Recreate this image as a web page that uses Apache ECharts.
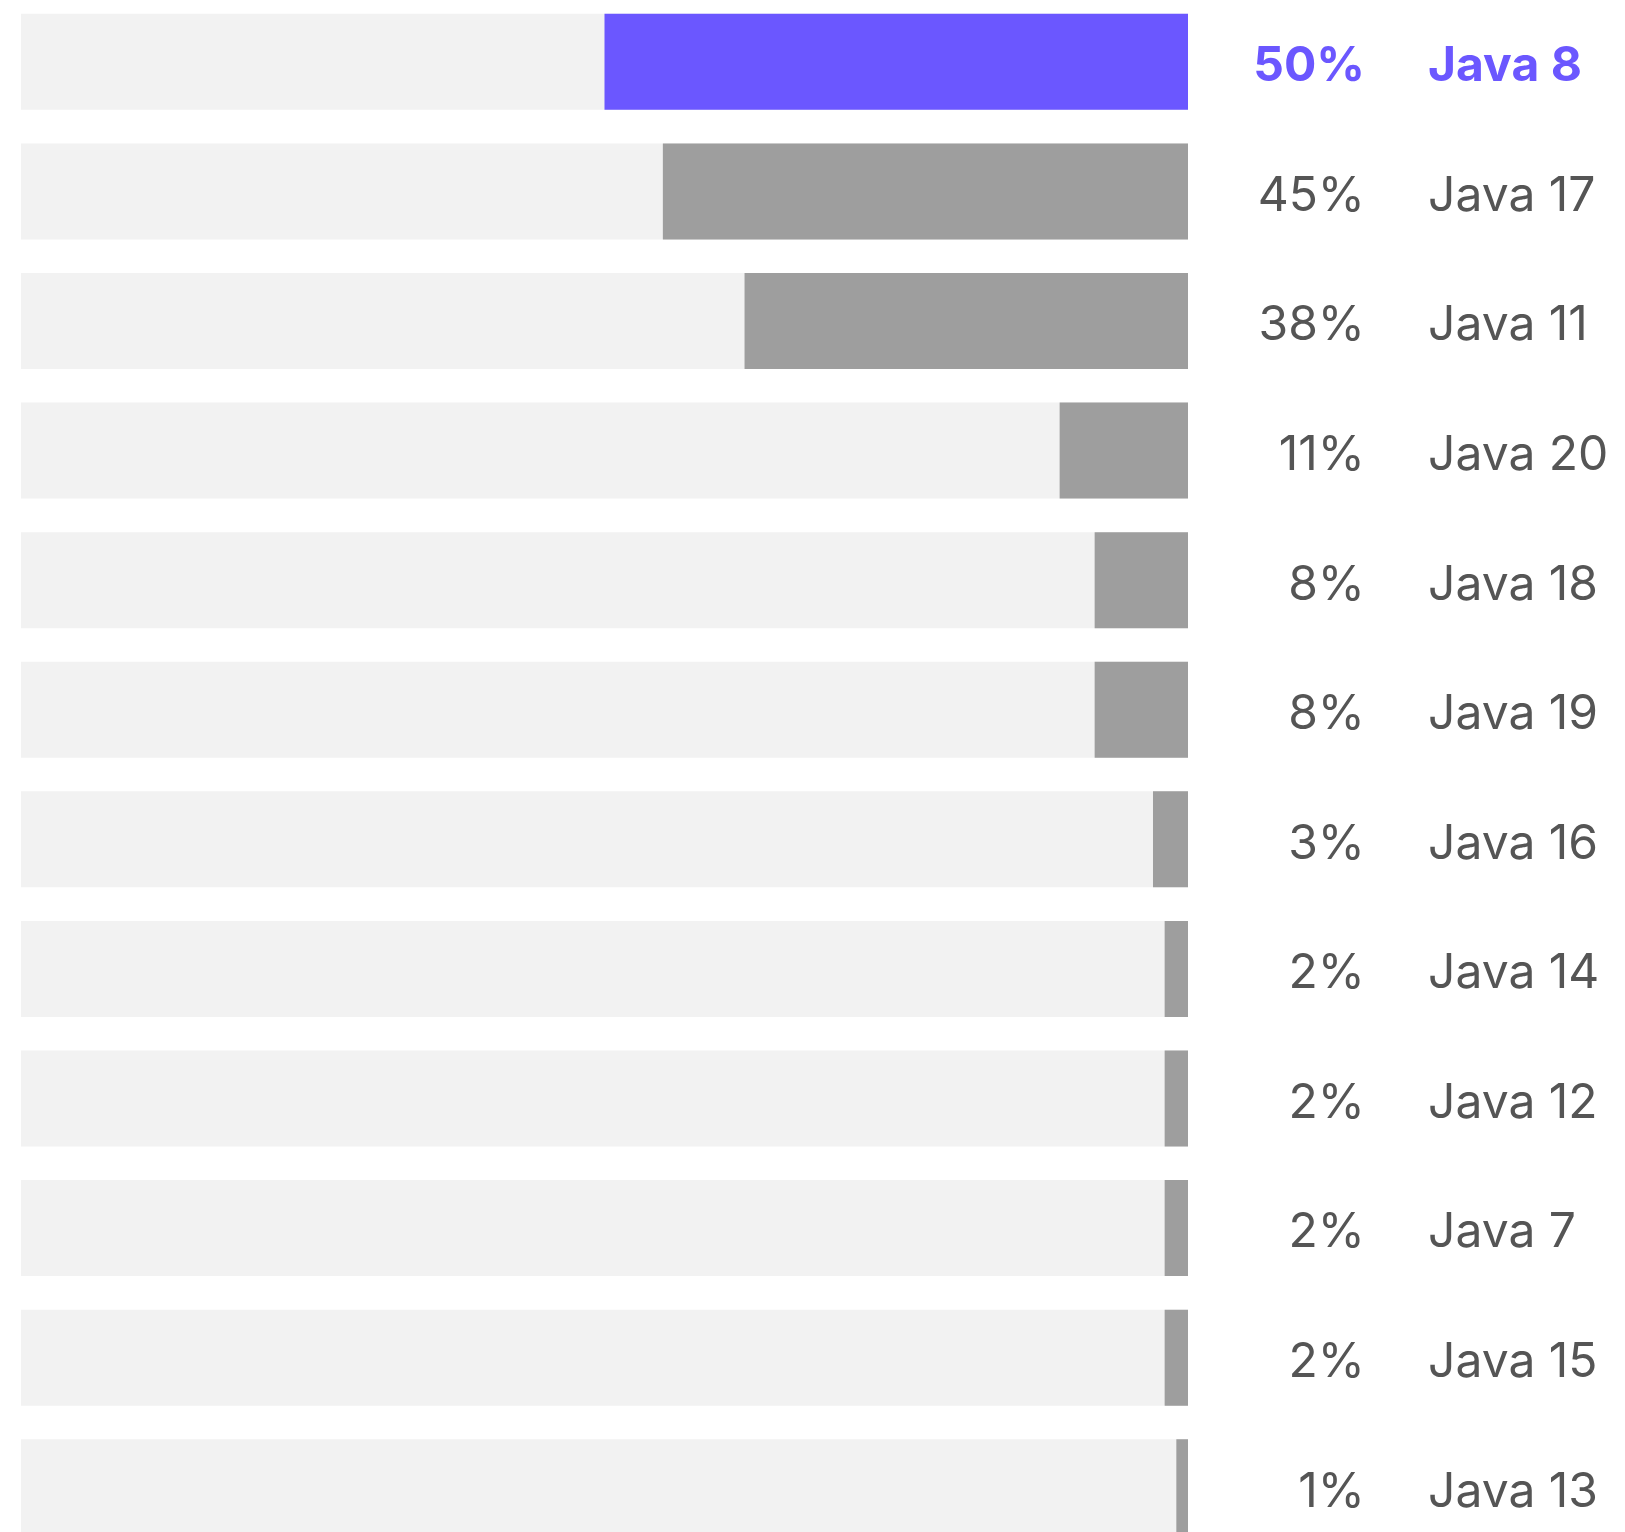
<!DOCTYPE html>
<html><head><meta charset="utf-8">
<script src="https://cdn.jsdelivr.net/npm/echarts@6/dist/echarts.min.js"></script>
<style>
html,body{margin:0;padding:0;background:#fff;overflow:hidden;width:1625px;height:1532px;}
#c{position:absolute;left:0;top:-3px;width:1625px;height:1555px;}
</style></head><body><div id="c"></div>
<script>
const categories = ['Java 8','Java 17','Java 11','Java 20','Java 18','Java 19','Java 16','Java 14','Java 12','Java 7','Java 15','Java 13'];
const values = [50,45,38,11,8,8,3,2,2,2,2,1];
const highlightIndex = 0;

const FONT = 'Inter';
const FS = 48;
const labelRich = {
  g:{fontFamily:FONT,fontSize:FS,color:'#555'},
  h:{fontFamily:FONT,fontSize:FS,fontWeight:'bold',color:'#6B57FF'}
};
const baseAxis = {type:'category',data:categories,inverse:true,position:'right',
  axisLine:{show:false},axisTick:{show:false},splitLine:{show:false}};

const chart = echarts.init(document.getElementById('c'));
chart.setOption({
  animation:false,
  grid:{left:21,right:437,top:0,bottom:0,containLabel:false},
  xAxis:{type:'value',min:0,max:100,inverse:true,show:false},
  yAxis:[
    Object.assign({}, baseAxis, {axisLabel:{margin:177,align:'right',padding:[10,0,0,0],rich:labelRich,
      formatter:(v,i)=>'{'+(i===highlightIndex?'h':'g')+'|'+values[i]+'%}'}}),
    Object.assign({}, baseAxis, {axisLabel:{margin:240,align:'left',padding:[10,0,0,0],rich:labelRich,
      formatter:(v,i)=>'{'+(i===highlightIndex?'h':'g')+'|'+v+'}'}})
  ],
  series:[{type:'bar',barWidth:96,yAxisIndex:0,
    showBackground:true,backgroundStyle:{color:'#F2F2F2'},
    data:values.map((v,i)=>({value:v,itemStyle:{color:i===highlightIndex?'#6B57FF':'#9E9E9E'}}))
  }]
});
</script></body></html>
